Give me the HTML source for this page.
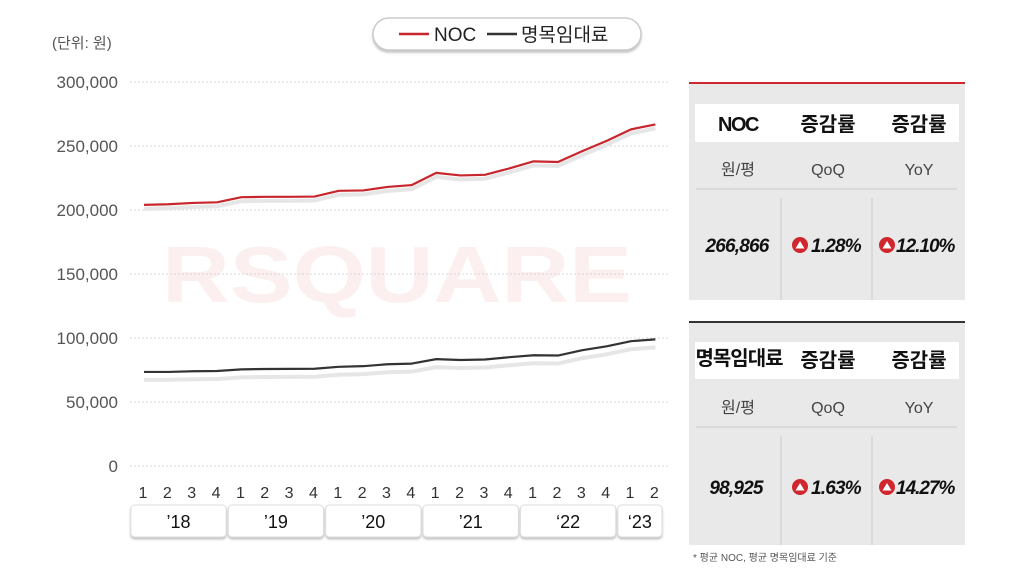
<!DOCTYPE html>
<html><head><meta charset="utf-8"><style>
body{margin:0;background:#fff;}
svg text{font-family:"Liberation Sans","Noto Sans CJK KR",sans-serif;}
</style></head><body>
<svg id="c" width="1010" height="565" viewBox="0 0 1010 565" xmlns="http://www.w3.org/2000/svg">
<defs><filter id="bs" x="-10%" y="-30%" width="120%" height="170%"><feDropShadow dx="0" dy="2" stdDeviation="1" flood-color="#999" flood-opacity="0.6"/></filter></defs>
<text x="52" y="48" font-size="15" fill="#555">(단위: 원)</text>
<g>
<rect x="373" y="18" width="268" height="32" rx="16" fill="#fff" stroke="#ccc" stroke-width="1.5" filter="url(#bs)"/>
<line x1="399" y1="34" x2="429" y2="34" stroke="#c8262d" stroke-width="2.5"/>
<text x="434" y="41" font-size="19" fill="#222">NOC</text>
<line x1="487" y1="34" x2="517" y2="34" stroke="#333" stroke-width="2.5"/>
<text x="521" y="41" font-size="19" fill="#222">명목임대료</text>
</g>
<text x="162" y="302" font-size="80" font-weight="bold" fill="#fcefef" textLength="470" lengthAdjust="spacingAndGlyphs">RSQUARE</text>
<g id="grid"></g><g id="plot"></g><g id="xax"></g>

<g>
<rect x="689" y="84" width="276" height="216" fill="#e9e9e9"/>
<line x1="689" y1="83" x2="965" y2="83" stroke="#d0262d" stroke-width="2"/>
<rect x="695" y="104" width="264" height="38" fill="#fff"/>
<text x="738" y="131" font-size="20" font-weight="bold" text-anchor="middle" letter-spacing="-1.5" fill="#111">NOC</text>
<text x="828" y="131" font-size="20" font-weight="bold" text-anchor="middle" fill="#111">증감률</text>
<text x="919" y="131" font-size="20" font-weight="bold" text-anchor="middle" fill="#111">증감률</text>
<text x="738" y="175" font-size="16" text-anchor="middle" fill="#444">원/평</text>
<text x="828" y="175" font-size="16" text-anchor="middle" fill="#444">QoQ</text>
<text x="919" y="175" font-size="16" text-anchor="middle" fill="#444">YoY</text>
<line x1="696" y1="189" x2="957" y2="189" stroke="#ccc"/>
<line x1="781" y1="198" x2="781" y2="300" stroke="#ccc"/>
<line x1="872" y1="198" x2="872" y2="300" stroke="#ccc"/>
<text x="737" y="252" font-size="19" font-weight="bold" font-style="italic" text-anchor="middle" letter-spacing="-0.8" fill="#111">266,866</text>
<circle cx="800" cy="245" r="8" fill="#d0262d"/><path d="M795.5 248.5 L800 241 L804.5 248.5 Z" fill="#fff"/>
<text x="811" y="252" font-size="19" font-weight="bold" font-style="italic" letter-spacing="-0.8" fill="#111">1.28%</text>
<circle cx="887" cy="245" r="8" fill="#d0262d"/><path d="M882.5 248.5 L887 241 L891.5 248.5 Z" fill="#fff"/>
<text x="896" y="252" font-size="19" font-weight="bold" font-style="italic" letter-spacing="-1" fill="#111">12.10%</text>
</g>

<g>
<rect x="689" y="323" width="276" height="222" fill="#e9e9e9"/>
<line x1="689" y1="322" x2="965" y2="322" stroke="#333" stroke-width="2"/>
<rect x="695" y="342" width="264" height="37" fill="#fff"/>
<text x="739" y="365" font-size="20" font-weight="bold" text-anchor="middle" letter-spacing="-1" fill="#111">명목임대료</text>
<text x="828" y="367" font-size="20" font-weight="bold" text-anchor="middle" fill="#111">증감률</text>
<text x="919" y="367" font-size="20" font-weight="bold" text-anchor="middle" fill="#111">증감률</text>
<text x="738" y="413" font-size="16" text-anchor="middle" fill="#444">원/평</text>
<text x="828" y="413" font-size="16" text-anchor="middle" fill="#444">QoQ</text>
<text x="919" y="413" font-size="16" text-anchor="middle" fill="#444">YoY</text>
<line x1="696" y1="427" x2="957" y2="427" stroke="#ccc"/>
<line x1="781" y1="436" x2="781" y2="545" stroke="#ccc"/>
<line x1="872" y1="436" x2="872" y2="545" stroke="#ccc"/>
<text x="736" y="494" font-size="19" font-weight="bold" font-style="italic" text-anchor="middle" letter-spacing="-0.8" fill="#111">98,925</text>
<circle cx="800" cy="487" r="8" fill="#d0262d"/><path d="M795.5 490.5 L800 483 L804.5 490.5 Z" fill="#fff"/>
<text x="811" y="494" font-size="19" font-weight="bold" font-style="italic" letter-spacing="-0.8" fill="#111">1.63%</text>
<circle cx="887" cy="487" r="8" fill="#d0262d"/><path d="M882.5 490.5 L887 483 L891.5 490.5 Z" fill="#fff"/>
<text x="896" y="494" font-size="19" font-weight="bold" font-style="italic" letter-spacing="-1" fill="#111">14.27%</text>
</g>
<text x="693" y="561" font-size="10" fill="#555">* 평균 NOC, 평균 명목임대료 기준</text>
</svg>
<script>
const quarters=["1","2","3","4","1","2","3","4","1","2","3","4","1","2","3","4","1","2","3","4","1","2"];
const years=["’18","’19","’20","’21","‘22","‘23"];
const nocValues=[204000,204500,205500,206000,210000,210300,210300,210500,215000,215300,218000,219500,229000,227000,227500,232500,238000,237500,246000,254000,263000,266866];
const rentValues=[73500,73500,74000,74200,75500,75800,75900,76000,77500,78000,79500,80000,83500,82800,83200,85000,86500,86300,90500,93500,97500,98925];
const yTicks=[0,50000,100000,150000,200000,250000,300000];
const NS="http://www.w3.org/2000/svg";
const X0=144,STEP=24.35,Y0=466,YMAX=300000,H=384;
const x=i=>X0+i*STEP, y=v=>Y0-v/YMAX*H;
function mk(t,a,p){const e=document.createElementNS(NS,t);for(const k in a)e.setAttribute(k,a[k]);p.appendChild(e);return e;}
const grid=document.getElementById('grid'),plot=document.getElementById('plot'),xax=document.getElementById('xax');
yTicks.forEach(v=>{
 const l=mk('line',{x1:130,x2:668,y1:y(v),y2:y(v),stroke:'#ccc','stroke-dasharray':'2,2','stroke-width':0.8},grid);
 
 
 const t=mk('text',{x:118,y:y(v)+6,'font-size':17,fill:'#555','text-anchor':'end'},grid);
 t.textContent=v.toLocaleString('en-US');
 
 
});
function series(vals,col,off,name){
 const pts=vals.map((v,i)=>x(i)+','+y(v)).join(' ');
 const sp=vals.map((v,i)=>x(i)+','+(y(v)+off)).join(' ');
 const s=mk('polyline',{points:sp,fill:'none',stroke:'#e6e6e6','stroke-width':4},plot);
 
 
 const p=mk('polyline',{points:pts,fill:'none',stroke:col,'stroke-width':2.2,'stroke-linejoin':'round'},plot);
 
 
}
series(nocValues,'#c8262d',4,'noc');
series(rentValues,'#333',8,'rent');
quarters.forEach((q,i)=>{
 const t=mk('text',{x:x(i)-1,y:498,'font-size':16,fill:'#333','text-anchor':'middle'},xax);
 t.textContent=q;
 
 
});
years.forEach((yr,j)=>{
 const n=(j<years.length-1)?4:2, s=j*4;
 const x1=x(s)-STEP/2-2, x2=Math.min(x(s+n-1)+STEP/2-2,663);
 const r=mk('rect',{x:x1+1,y:505,width:x2-x1-2,height:32,rx:4,fill:'#fff',stroke:'#ddd',filter:'url(#bs)'},xax);
 
 
 const t=mk('text',{x:(x1+x2)/2,y:528,'font-size':18,fill:'#111','text-anchor':'middle'},xax);
 t.textContent=yr;
 
 
});
</script>
</body></html>
